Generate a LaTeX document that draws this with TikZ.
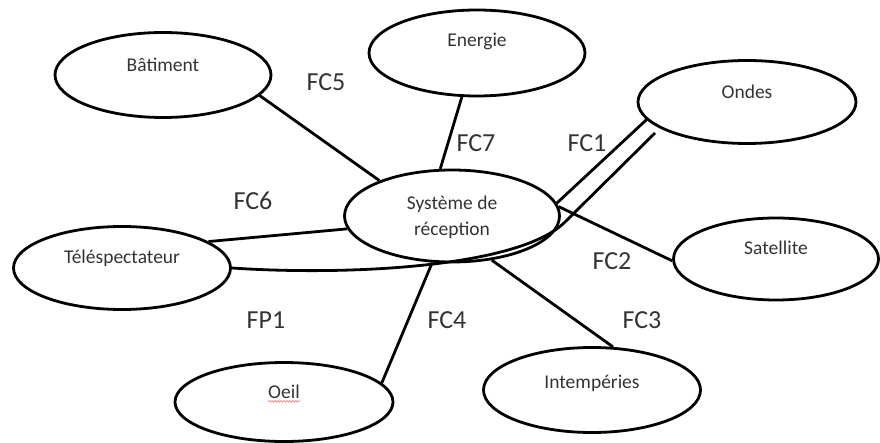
\documentclass[tikz,border=0pt]{standalone}
\usepackage{fontspec}
\setmainfont{Carlito}
\usetikzlibrary{shapes.geometric,decorations.pathmorphing}
\definecolor{txtgray}{HTML}{333333}
\tikzset{
  ell/.style={ellipse, draw=black, line width=2.8pt, inner sep=0pt},
  conn/.style={draw=black, line width=2.8pt},
  txt/.style={anchor=base, inner sep=0pt, text=txtgray, font=\fontsize{19.5}{22}\selectfont},
  fclbl/.style={anchor=base, inner sep=0pt, text=txtgray, font=\fontsize{26}{30}\selectfont},
}
\begin{document}
\begin{tikzpicture}[x=1pt,y=-1pt]
\useasboundingbox (0,0) rectangle (880,443);
% ellipses
\node[ell, minimum width=216pt, minimum height=85pt] (bat) at (163,75) {};
\node[ell, minimum width=216pt, minimum height=86pt] (ener) at (477,53) {};
\node[ell, minimum width=218pt, minimum height=83pt] (ondes) at (747,102) {};
\node[ell, minimum width=215pt, minimum height=92pt] (sys) at (452,216) {};
\node[ell, minimum width=217pt, minimum height=83pt] (tele) at (122,268) {};
\node[ell, minimum width=205pt, minimum height=82pt] (sat) at (776,259) {};
\node[ell, minimum width=218pt, minimum height=79pt] (oeil) at (284,402) {};
\node[ell, minimum width=217pt, minimum height=85pt] (intemp) at (592,390) {};
% texts
\node[txt] (batT) at (163,72) {Bâtiment};
\node[txt] (enerT) at (477,47) {Energie};
\node[txt] (ondesT) at (747,99) {Ondes};
\node[txt] (sysT1) at (452,210) {Système de};
\node[txt] (sysT2) at (452,236) {réception};
\node[txt] (teleT) at (122,264) {Téléspectateur};
\node[txt] (satT) at (776,255) {Satellite};
\node[txt] (oeilT) at (284,398) {Oeil};
\node[txt] (intempT) at (592,388) {Intempéries};
\draw[red!55, line width=0.6pt, decorate, decoration={snake, amplitude=0.8pt, segment length=3pt}]
  ([yshift=-3pt]oeilT.south west) -- ([yshift=-3pt]oeilT.south east);
% connectors
\draw[conn] (bat.-12.4) -- (sys.154.7);
\draw[conn] (ener.251) -- (sys.104.6);
\draw[conn] (tele.17) -- (sys.187.3);
\draw[conn] (sys.247) -- (oeil.11.2);
\draw[conn] (sys.-48.3) -- (intemp.64.5);
\draw[conn] (sys.5.8) -- (sat.181.7);
\draw[conn] (ondes.190.9) -- (sys.7);
\coordinate (fpend) at (655,133);
\draw[conn] (tele.east) .. controls (350,276) and (520,267) .. (565,222) -- (fpend);
% labels
\node[fclbl] (fc5) at (326,91) {FC5};
\node[fclbl] (fc6) at (253,210) {FC6};
\node[fclbl] (fc7) at (476,152) {FC7};
\node[fclbl] (fc1) at (587,152) {FC1};
\node[fclbl] (fc2) at (612,270) {FC2};
\node[fclbl] (fc3) at (642,328) {FC3};
\node[fclbl] (fc4) at (447,328) {FC4};
\node[fclbl] (fp1) at (266,328) {FP1};
\end{tikzpicture}
\end{document}
